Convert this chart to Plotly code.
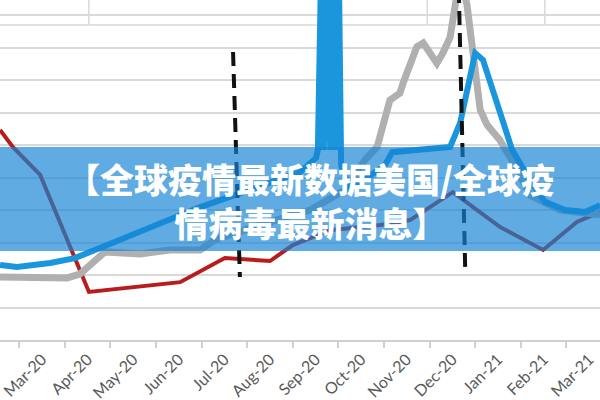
import plotly.graph_objects as go

# ---------------- data ----------------
month_labels = ["Mar-20", "Apr-20", "May-20", "Jun-20", "Jul-20", "Aug-20", "Sep-20",
                "Oct-20", "Nov-20", "Dec-20", "Jan-21", "Feb-21", "Mar-21"]
month_pos = [0, 1, 2, 3, 4, 5, 6, 7, 8, 9, 10, 11, 12]
month_edges = [-0.5, 0.5, 1.5, 2.5, 3.5, 4.5, 5.5, 6.5, 7.5, 8.5, 9.5, 10.5, 11.5]

red_x = [-0.92, -0.64, -0.04, 0.55, 0.70, 0.97, 1.03, 3.03, 4.01, 5.00, 5.50, 6.32, 7.41,
         8.07, 9.01, 10.04, 10.99, 11.73, 12.24]
red_y = [6.46, 5.94, 5.08, 3.08, 2.55, 1.69, 1.48, 1.78, 2.52, 2.43, 2.92, 3.38, 3.54,
         3.69, 4.55, 3.48, 2.77, 3.63, 3.94]

gray_x = [-0.92, 0.55, 0.83, 1.05, 1.38, 2.15, 2.81, 3.47, 3.79, 4.78, 5.88, 6.65, 7.08,
          7.35, 7.48, 7.63, 7.85, 7.92, 8.22, 8.36, 8.66, 8.79, 8.95, 9.06, 9.17, 9.32,
          9.43, 9.61, 9.76, 10.04, 10.37, 10.70, 11.36, 12.24]
gray_y = [1.94, 1.91, 2.03, 2.31, 2.71, 2.65, 2.77, 2.77, 3.08, 3.54, 4.00, 4.62, 5.54,
          5.94, 6.55, 7.38, 7.60, 7.91, 9.02, 9.14, 8.52, 8.83, 9.32, 10.15, 11.23, 10.31,
          8.92, 7.08, 6.62, 6.15, 5.38, 4.46, 4.00, 3.85]

blue_x = [-0.92, -0.55, 0.18, 0.72, 1.27, 2.37, 3.47, 4.56, 5.66, 6.01, 6.05, 6.12, 6.18,
          6.25, 6.32, 6.38, 6.45, 6.51, 6.56, 6.75, 7.52, 7.68, 8.29, 8.95, 9.17, 9.32,
          9.50, 9.67, 9.89, 10.11, 10.31, 10.70, 11.03, 11.47, 11.91, 12.24]
blue_y = [2.31, 2.25, 2.37, 2.52, 2.83, 3.45, 4.09, 4.62, 5.17, 5.60, 5.85, 11.38, 5.85,
          11.38, 5.85, 11.38, 5.85, 11.38, 5.38, 4.62, 5.38, 5.78, 5.85, 5.94, 6.68, 7.69,
          8.83, 8.62, 7.69, 6.68, 5.85, 4.92, 4.25, 4.00, 3.94, 4.15]

marker1_x = [4.19, 4.34]
marker1_y = [8.86, 1.94]
marker2_x = [9.14, 9.28]
marker2_y = [10.8, 2.25]

banner_lines = ["【全球疫情最新数据美国/全球疫", "情病毒最新消息】"]

# ---------------- figure ----------------
fig = go.Figure()
fig.add_trace(go.Scatter(x=red_x, y=red_y, mode="lines",
                         line=dict(color="#B81D1D", width=4), hoverinfo="skip"))
fig.add_trace(go.Scatter(x=gray_x, y=gray_y, mode="lines",
                         line=dict(color="#B0B0B0", width=7), hoverinfo="skip"))
fig.add_trace(go.Scatter(x=blue_x, y=blue_y, mode="lines",
                         line=dict(color="#1A96DC", width=6), hoverinfo="skip"))
for mx, my in [(marker1_x, marker1_y), (marker2_x, marker2_y)]:
    fig.add_trace(go.Scatter(x=mx, y=my, mode="lines",
                             line=dict(color="#111111", width=4, dash="14px,8px"),
                             hoverinfo="skip"))

GRID = "#d9d9d9"
fig.update_layout(
    width=600, height=400,
    margin=dict(l=0, r=0, t=0, b=60, pad=0),
    paper_bgcolor="white", plot_bgcolor="white",
    showlegend=False,
    xaxis=dict(range=[-0.921, 12.237], tickmode="array", tickvals=month_pos,
               ticktext=month_labels, tickangle=-45, ticks="outside", ticklen=2,
               tickcolor="rgba(0,0,0,0)", showgrid=False, zeroline=False,
               automargin=False, ticklabeloverflow="allow",
               showline=True, linecolor="#cfcfcf", linewidth=1.5,
               tickfont=dict(family="Lato, Open Sans, sans-serif", size=16, color="#595959"),
               minor=dict(tickmode="array", tickvals=month_edges, ticks="outside",
                          ticklen=6, tickwidth=1.5, tickcolor="#cfcfcf", showgrid=False)),
    yaxis=dict(range=[0, 10.4615], dtick=1, showticklabels=False, showgrid=True,
               gridcolor=GRID, gridwidth=1.5, zeroline=False, ticks="", automargin=False),
)

shapes = [
    dict(type="line", xref="paper", yref="paper", x0=0, x1=1, y0=0.9265, y1=0.9265,
         line=dict(color=GRID, width=1.5), layer="below"),
]
for xv in [0.148, 0.712, 0.908]:
    shapes.append(dict(type="line", xref="paper", yref="paper", x0=xv, x1=xv,
                       y0=0.9265, y1=1.0, line=dict(color=GRID, width=1.5), layer="below"))
shapes.append(dict(type="rect", xref="paper", yref="y", x0=0, x1=1, y0=2.74, y1=5.94,
                   fillcolor="rgba(20,132,212,0.68)", line=dict(width=0), layer="above"))
fig.update_layout(shapes=shapes)

fig.add_annotation(text="<br>".join(banner_lines), xref="paper", yref="paper",
                   x=0.517, y=0.409, xanchor="center", yanchor="middle", align="center",
                   showarrow=False,
                   font=dict(family="Noto Sans CJK SC", size=34, color="white", weight=900))

fig.write_html("out.html", config={"displayModeBar": False},
               post_script="document.body.style.margin='0';document.body.style.overflow='hidden';")
